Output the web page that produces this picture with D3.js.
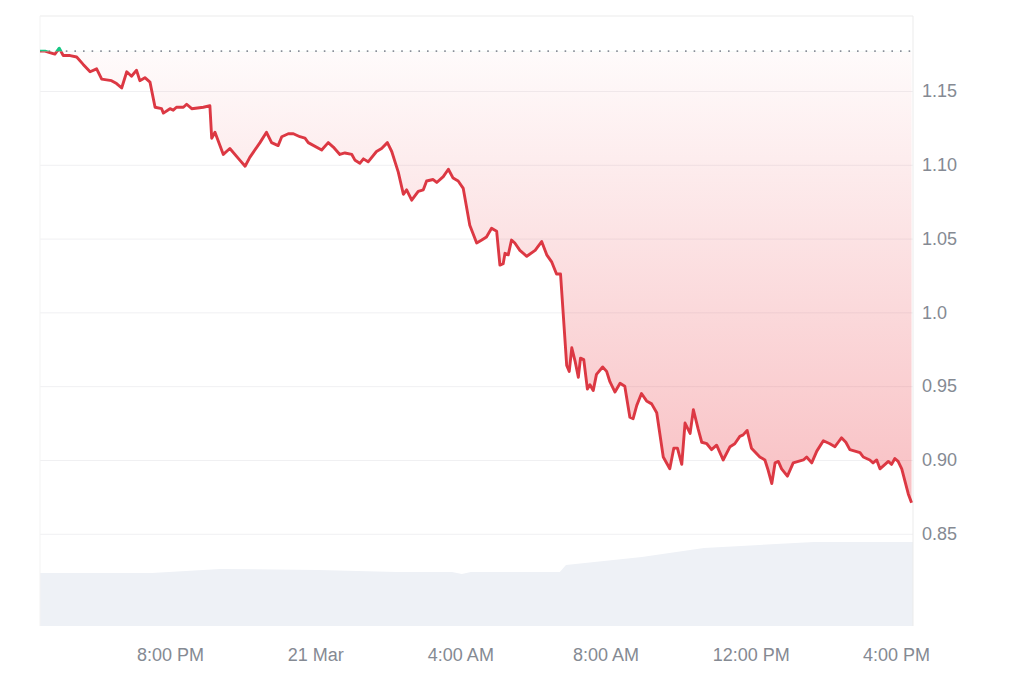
<!DOCTYPE html>
<html>
<head>
<meta charset="utf-8">
<script src="https://cdn.jsdelivr.net/npm/d3@7"></script>
<style>
  html, body { margin: 0; padding: 0; background: #fff; }
  svg { display: block; }
  text { font-family: "Liberation Sans", Arial, sans-serif; }
</style>
</head>
<body>
<svg id="chart" width="1024" height="683"></svg>
<script>
// ---- data (hours since 20 Mar 00:00 UTC) ----
const hours = [16.42,16.56,16.69,16.83,16.95,17.06,17.25,17.43,17.61,17.80,17.98,18.12,18.39,18.53,18.67,18.81,18.94,19.08,19.17,19.31,19.45,19.59,19.77,19.82,20.00,20.09,20.18,20.37,20.46,20.60,20.92,21.10,21.15,21.24,21.47,21.65,21.93,22.07,22.20,22.48,22.66,22.80,22.98,23.08,23.26,23.40,23.58,23.72,23.81,24.18,24.36,24.50,24.68,24.82,25.01,25.10,25.23,25.33,25.46,25.69,25.83,25.99,26.11,26.29,26.43,26.52,26.66,26.84,26.98,27.07,27.25,27.35,27.53,27.67,27.80,27.94,28.08,28.26,28.45,28.59,28.72,28.86,29.00,29.09,29.18,29.23,29.32,29.41,29.50,29.64,29.83,30.06,30.24,30.38,30.52,30.65,30.76,30.93,31.00,31.07,31.16,31.25,31.31,31.40,31.50,31.57,31.66,31.75,31.92,32.03,32.12,32.26,32.40,32.53,32.67,32.76,32.86,32.99,33.13,33.27,33.41,33.59,33.77,33.88,33.98,34.10,34.19,34.33,34.42,34.55,34.65,34.79,34.92,35.06,35.24,35.43,35.56,35.70,35.79,35.90,36.02,36.25,36.39,36.48,36.58,36.67,36.76,36.85,37.01,37.17,37.31,37.45,37.54,37.68,37.82,38.00,38.18,38.32,38.41,38.50,38.62,38.73,38.87,39.01,39.10,39.28,39.37,39.47,39.56,39.70,39.79,39.88,39.97,40.06,40.16,40.34,40.43];
const prices = [1.177,1.177,1.176,1.175,1.179,1.174,1.174,1.173,1.168,1.163,1.165,1.158,1.157,1.155,1.152,1.163,1.160,1.164,1.157,1.159,1.156,1.139,1.138,1.135,1.138,1.137,1.139,1.139,1.141,1.138,1.139,1.140,1.118,1.122,1.107,1.111,1.103,1.099,1.105,1.115,1.122,1.115,1.113,1.119,1.121,1.121,1.119,1.118,1.115,1.110,1.115,1.112,1.107,1.108,1.107,1.103,1.101,1.104,1.102,1.109,1.111,1.115,1.109,1.095,1.080,1.083,1.076,1.082,1.083,1.089,1.090,1.088,1.092,1.097,1.091,1.089,1.084,1.059,1.047,1.049,1.051,1.057,1.055,1.032,1.033,1.040,1.039,1.049,1.047,1.042,1.038,1.042,1.048,1.039,1.034,1.026,1.026,0.964,0.960,0.976,0.967,0.956,0.969,0.968,0.948,0.951,0.947,0.958,0.963,0.960,0.953,0.946,0.952,0.950,0.929,0.928,0.937,0.945,0.940,0.938,0.932,0.902,0.894,0.908,0.908,0.897,0.925,0.918,0.934,0.921,0.912,0.911,0.907,0.910,0.900,0.909,0.911,0.916,0.917,0.920,0.908,0.902,0.900,0.893,0.884,0.898,0.899,0.894,0.889,0.898,0.899,0.900,0.902,0.898,0.906,0.913,0.911,0.909,0.912,0.915,0.912,0.907,0.906,0.905,0.902,0.900,0.898,0.900,0.894,0.897,0.899,0.897,0.901,0.899,0.894,0.877,0.871];
const baselinePrice = 1.177;
const volHours = [16.42,19.50,21.38,24.08,26.25,27.77,28.04,28.29,30.74,30.91,33.00,34.71,37.74,40.47];
const volumes  = [53,53,57,56,54,54,52,54,54,61,69,78,84,84];
const yTicks = [0.85,0.90,0.95,1.0,1.05,1.10,1.15];
const yTickLabels = ["0.85","0.90","0.95","1.0","1.05","1.10","1.15"];
const xTickHours = [20,24,28,32,36,40];

// ---- layout ----
const W = 1024, H = 683;
const plot = {left: 40, right: 913, top: 16, bottom: 626};
const base = Date.UTC(2024, 2, 20);
const toDate = h => new Date(base + h * 3600e3);

const svg = d3.select("#chart");
svg.append("rect").attr("width", W).attr("height", H).attr("fill", "#fff");

const x = d3.scaleUtc().domain([toDate(16.42), toDate(40.47)]).range([plot.left, plot.right]);
const y = d3.scaleLinear().domain([0.7875, 1.2008]).range([plot.bottom, plot.top]);
const yv = d3.scaleLinear().domain([0, 100]).range([plot.bottom, plot.bottom - 100]);

const data = hours.map((h, i) => ({t: toDate(h), v: prices[i]}));
const vdata = volHours.map((h, i) => ({t: toDate(h), v: volumes[i]}));

const defs = svg.append("defs");
const grad = defs.append("linearGradient").attr("id", "redFill")
  .attr("gradientUnits", "userSpaceOnUse")
  .attr("x1", 0).attr("x2", 0).attr("y1", y(baselinePrice)).attr("y2", y(0.871));
grad.append("stop").attr("offset", 0).attr("stop-color", "#ea3943").attr("stop-opacity", 0.02);
grad.append("stop").attr("offset", 1).attr("stop-color", "#ea3943").attr("stop-opacity", 0.32);

defs.append("clipPath").attr("id", "below").append("rect")
  .attr("x", plot.left).attr("y", y(baselinePrice))
  .attr("width", plot.right - plot.left).attr("height", plot.bottom - y(baselinePrice));
defs.append("clipPath").attr("id", "above").append("rect")
  .attr("x", plot.left).attr("y", plot.top)
  .attr("width", plot.right - plot.left).attr("height", y(baselinePrice) - plot.top);

// volume area
svg.append("path").datum(vdata)
  .attr("fill", "#eef1f6")
  .attr("d", d3.area().x(d => x(d.t)).y0(plot.bottom).y1(d => yv(d.v)));

// grid + y axis
const yAxis = d3.axisRight(y).tickValues(yTicks)
  .tickFormat((d, i) => yTickLabels[i])
  .tickSizeInner(-(plot.right - plot.left)).tickSizeOuter(0).tickPadding(9);
const gy = svg.append("g").attr("transform", `translate(${plot.right},0)`).call(yAxis);
gy.select(".domain").remove();
gy.selectAll(".tick line").attr("stroke", "#f0f0f2");
gy.selectAll(".tick text").attr("fill", "#858a93").attr("font-size", 18)
  .attr("font-family", '"Liberation Sans", Arial, sans-serif');

// border
svg.append("line").attr("x1", plot.left).attr("x2", plot.right).attr("y1", plot.top).attr("y2", plot.top).attr("stroke", "#ebebeb");
svg.append("line").attr("x1", plot.right).attr("x2", plot.right).attr("y1", plot.top).attr("y2", plot.bottom).attr("stroke", "#ebebeb");
svg.append("line").attr("x1", plot.left).attr("x2", plot.left).attr("y1", plot.top).attr("y2", plot.bottom).attr("stroke", "#f3f3f3");

// fills
const areaBase = d3.area().x(d => x(d.t)).y0(y(baselinePrice)).y1(d => y(d.v));
svg.append("path").datum(data).attr("clip-path", "url(#below)")
  .attr("fill", "url(#redFill)").attr("d", areaBase);
svg.append("path").datum(data).attr("clip-path", "url(#above)")
  .attr("fill", "#16c784").attr("fill-opacity", 0.15).attr("d", areaBase);

// baseline dotted
svg.append("line").attr("x1", plot.left).attr("x2", plot.right)
  .attr("y1", y(baselinePrice)).attr("y2", y(baselinePrice))
  .attr("stroke", "#8a8f99").attr("stroke-width", 1.6).attr("stroke-dasharray", "1.6,7");

// price line
const line = d3.line().x(d => x(d.t)).y(d => y(d.v));
svg.append("path").datum(data).attr("clip-path", "url(#below)")
  .attr("fill", "none").attr("stroke", "#dc3843").attr("stroke-width", 2.9)
  .attr("stroke-linejoin", "round").attr("d", line);
svg.append("path").datum(data).attr("clip-path", "url(#above)")
  .attr("fill", "none").attr("stroke", "#16c784").attr("stroke-width", 2.9)
  .attr("stroke-linejoin", "round").attr("d", line);

// x axis
const fmtDay = d3.utcFormat("%-d %b"), fmtTime = d3.utcFormat("%-I:%M %p");
const xAxis = d3.axisBottom(x).tickValues(xTickHours.map(toDate))
  .tickFormat(d => d.getUTCHours() === 0 ? fmtDay(d) : fmtTime(d))
  .tickSize(0).tickPadding(22);
const gx = svg.append("g").attr("transform", `translate(0,${plot.bottom})`).call(xAxis);
gx.select(".domain").remove();
gx.selectAll(".tick text").attr("fill", "#858a93").attr("font-size", 18)
  .attr("font-family", '"Liberation Sans", Arial, sans-serif');
</script>
</body>
</html>
